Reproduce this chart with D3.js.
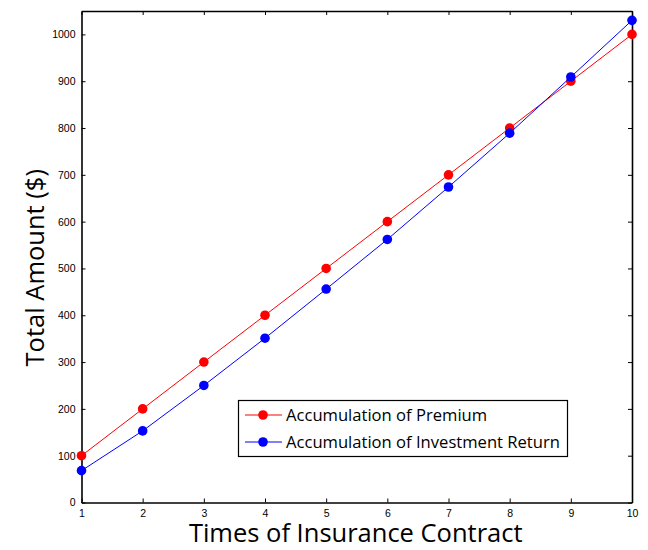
<!DOCTYPE html>
<html><head><meta charset="utf-8">
<script src="https://cdn.jsdelivr.net/npm/d3@7"></script>
<style>body{margin:0;background:#fff}svg{display:block}</style>
</head><body><svg id="c" width="648" height="550"></svg>
<script>
const times = [1,2,3,4,5,6,7,8,9,10];
const premium = [100,200,300,400,500,600,700,800,900,1000];
const investment = [68,153,250,351,456,562,674,789,909,1030];
const xTicks = [1,2,3,4,5,6,7,8,9,10];
const yTicks = [0,100,200,300,400,500,600,700,800,900,1000];
const seriesNames = ["Accumulation of Premium","Accumulation of Investment Return"];
const colors = ["#ff0000","#0000ff"];

const svg = d3.select("#c");
const L=81.5, R=632, T=11, B=502.5;
const x = d3.scaleLinear().domain([1,10]).range([L,R]);
const y = d3.scaleLinear().domain([0,1050]).range([B,T]);

const tickFont = "'Liberation Sans', Arial, sans-serif";
const xAx = svg.append("g").attr("transform",`translate(0,${B})`)
  .call(d3.axisBottom(x).tickValues(xTicks).tickSizeInner(-4).tickSizeOuter(0).tickPadding(7).tickFormat(d3.format("d")));
const xAxTop = svg.append("g").attr("transform",`translate(0,${T})`)
  .call(d3.axisTop(x).tickValues(xTicks).tickSizeInner(-4).tickSizeOuter(0).tickFormat(""));
const yAx = svg.append("g").attr("transform",`translate(${L},0)`)
  .call(d3.axisLeft(y).tickValues(yTicks).tickSizeInner(-4).tickSizeOuter(0).tickPadding(6).tickFormat(d3.format("d")));
const yAxR = svg.append("g").attr("transform",`translate(${R},0)`)
  .call(d3.axisRight(y).tickValues(yTicks).tickSizeInner(-4).tickSizeOuter(0).tickFormat(""));
[xAx,xAxTop,yAx,yAxR].forEach(g=>{
  g.selectAll("path").attr("stroke","#000").attr("stroke-width",1.6);
  g.selectAll("line").attr("stroke","#000").attr("stroke-width",1);
  g.selectAll("text").attr("font-family",tickFont).attr("font-size",10.5).attr("fill","#000");
});
xAx.selectAll("text").attr("dy","0.71em");

const series = [premium, investment];
const line = d3.line().x((d,i)=>x(times[i])).y(d=>y(d));
series.forEach((s,k)=>{
  svg.append("path").datum(s).attr("d",line).attr("fill","none").attr("stroke",colors[k]).attr("stroke-width",1);
  svg.append("g").selectAll("circle").data(s).join("circle")
    .attr("cx",(d,i)=>x(times[i])).attr("cy",d=>y(d)).attr("r",4.8).attr("fill",colors[k]);
});

const labFont = "'Open Sans', 'Noto Sans', sans-serif";
svg.append("text").attr("x",(L+R)/2 - 1).attr("y",542).attr("text-anchor","middle")
  .attr("font-family",labFont).attr("font-size",25.5).attr("fill","#000").text("Times of Insurance Contract");
svg.append("text").attr("transform",`translate(44,${(T+B)/2 + 11}) rotate(-90)`).attr("text-anchor","middle")
  .attr("font-family",labFont).attr("font-size",25.5).attr("fill","#000").text("Total Amount ($)");

const lg = svg.append("g");
lg.append("rect").attr("x",238.5).attr("y",400.5).attr("width",329).attr("height",56)
  .attr("fill","#fff").attr("stroke","#000").attr("stroke-width",1.2);
seriesNames.forEach((n,k)=>{
  const yy = 415 + k*27;
  lg.append("line").attr("x1",245).attr("x2",282).attr("y1",yy).attr("y2",yy).attr("stroke",colors[k]).attr("stroke-width",1);
  lg.append("circle").attr("cx",263).attr("cy",yy).attr("r",4.8).attr("fill",colors[k]);
  lg.append("text").attr("x",286).attr("y",yy).attr("dy","0.35em").attr("font-family",labFont)
    .attr("font-size",16.6).attr("fill","#000").text(n);
});
</script></body></html>
